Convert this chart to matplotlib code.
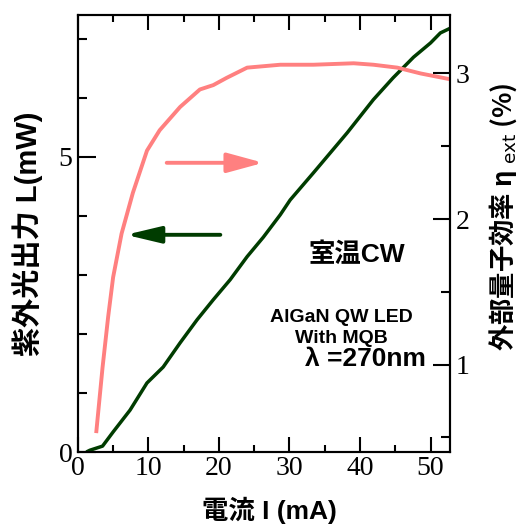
import matplotlib
matplotlib.use('Agg')
import matplotlib.pyplot as plt
from matplotlib.ticker import MultipleLocator

# light output L (mW) vs current I (mA), left axis
cur_L = [1.2, 1.7, 3.5, 5.0, 7.4, 9.8, 12.1, 14.5, 16.9, 19.2, 21.6, 24.0, 26.3,
         28.7, 30.1, 33.4, 38.2, 41.9, 44.7, 47.6, 50.0, 51.4, 52.8]
power = [0.0, 0.03, 0.10, 0.34, 0.71, 1.17, 1.44, 1.85, 2.24, 2.58, 2.92, 3.31, 3.64,
         4.02, 4.27, 4.73, 5.41, 5.97, 6.34, 6.69, 6.93, 7.10, 7.18]

# external quantum efficiency (%) vs current, right axis
cur_eta = [2.6, 3.5, 4.3, 5.0, 6.2, 7.8, 9.8, 11.6, 14.5, 17.3, 19.2, 21.1, 24.0,
           28.7, 33.4, 39.1, 41.9, 45.3, 48.6, 52.8]
eta = [0.53, 0.98, 1.33, 1.60, 1.90, 2.18, 2.47, 2.61, 2.77, 2.89, 2.92, 2.97, 3.04,
       3.06, 3.06, 3.07, 3.06, 3.04, 3.00, 2.96]

pink = '#ff8080'
green = '#003c00'
sans = ['Liberation Sans', 'Noto Sans CJK JP']
serif = 'Liberation Serif'

fig = plt.figure(figsize=(5.26, 5.25), dpi=100)
ax = fig.add_axes([0.148, 0.139, 0.708, 0.832])
ax2 = ax.twinx()

ax.plot(cur_L, power, color=green, lw=2.5, solid_capstyle='butt')
ax2.plot(cur_eta, eta, color=pink, lw=2.8, solid_capstyle='butt')

ax.set_xlim(0, 52.8)
ax.set_ylim(0, 7.4)
ax2.set_ylim(0.4, 3.4)

ax.xaxis.set_major_locator(MultipleLocator(10))
ax.xaxis.set_minor_locator(MultipleLocator(5))
ax.yaxis.set_major_locator(MultipleLocator(5))
ax.yaxis.set_minor_locator(MultipleLocator(1))
ax2.yaxis.set_major_locator(MultipleLocator(1))
ax2.yaxis.set_minor_locator(MultipleLocator(0.5))

ax.tick_params(axis='x', which='both', direction='in', top=True, width=1.5, pad=3)
ax.tick_params(axis='x', which='major', length=11)
ax.tick_params(axis='x', which='minor', length=5)
ax.tick_params(axis='y', which='both', direction='in', right=False, width=1.5, pad=4)
ax.tick_params(axis='y', which='major', length=13)
ax.tick_params(axis='y', which='minor', length=6.5)
ax2.tick_params(axis='y', which='both', direction='in', width=1.5, pad=4)
ax2.tick_params(axis='y', which='major', length=12)
ax2.tick_params(axis='y', which='minor', length=6.5)

for a in (ax, ax2):
    for s in a.spines.values():
        s.set_linewidth(1.5)
    for lab in a.get_xticklabels() + a.get_yticklabels():
        lab.set_fontfamily(serif)
        lab.set_fontsize(20)

# arrows pointing to each curve's axis
ax.annotate('', xy=(26.3, 4.9), xytext=(12.6, 4.9),
            arrowprops=dict(arrowstyle='-|>,head_length=2.2,head_width=0.6',
                            mutation_scale=10, color=pink, lw=2.8,
                            shrinkA=0, shrinkB=0))
ax.annotate('', xy=(6.8, 3.68), xytext=(20.2, 3.68),
            arrowprops=dict(arrowstyle='-|>,head_length=2.1,head_width=0.5',
                            mutation_scale=10, color=green, lw=2.8,
                            shrinkA=0, shrinkB=0))

ax.text(39.5, 3.34, '室温CW', family=sans, fontsize=19, fontweight='bold',
        ha='center', va='center')
ax.text(37.3, 2.10, 'AlGaN QW LED\nWith MQB', family=sans, fontsize=14,
        fontweight='bold', ha='center', va='center', multialignment='center',
        linespacing=1.25)
ax.text(40.8, 1.57, 'λ =270nm', family=sans, fontsize=19, fontweight='bold',
        ha='center', va='center')

fig.text(269 / 526, 1 - 510 / 525, '電流 I (mA)', family=sans, fontsize=19,
         fontweight='bold', ha='center', va='center')
fig.text(28 / 526, 1 - 234 / 525, '紫外光出力 L(mW)', family=sans, fontsize=21,
         fontweight='bold', ha='center', va='center', rotation=90)
fig.text(503 / 526, 1 - 217 / 525, r'外部量子効率 η $_{\rm ext}$ (%)',
         family='Noto Sans CJK JP', fontsize=19, fontweight='bold',
         ha='center', va='center', rotation=90)

fig.savefig('out.png', dpi=100)
